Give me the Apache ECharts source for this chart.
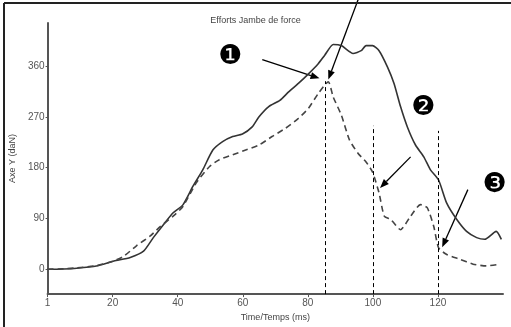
<!DOCTYPE html>
<html>
<head>
<meta charset="utf-8">
<script src="https://cdn.jsdelivr.net/npm/echarts@6/dist/echarts.min.js"></script>
<style>
  html, body { margin: 0; padding: 0; background: #fff; }
  #chart { width: 511px; height: 327px; }
</style>
</head>
<body>
<div id="chart"></div>
<script>
// measured force curves, [time ms, force daN]
const solidCurve = [
  [0, 0], [5, 0.5], [9, 1.8], [15, 5.8], [20.4, 14.6], [25.4, 21], [29.5, 32], [32.5, 56],
  [35.6, 79], [38.6, 100], [41.6, 114], [44.7, 147], [47.7, 176], [50.8, 211], [53.8, 226],
  [56.9, 235], [59.9, 239.5], [62.9, 252], [65, 270], [68, 288], [71.4, 299], [74.1, 314],
  [77.1, 329], [80.2, 346], [83.2, 364], [85.2, 379], [87.8, 398], [90.3, 396], [93.9, 382],
  [96.4, 387], [97.9, 396], [99.9, 396], [101.9, 387], [104.5, 358], [106.5, 329], [108.5, 288],
  [110.6, 252], [113.1, 220], [115.6, 199.5], [117.7, 176], [120.2, 158], [122.7, 117],
  [125.8, 88], [128.8, 67], [131.9, 56], [134.4, 53], [137.9, 67], [139.5, 53]
];
const dashedCurve = [
  [0, 0], [5, 0.8], [9, 2.5], [15, 6.5], [20, 14], [23.4, 23], [27.4, 42], [31.6, 59],
  [34.7, 76], [38.6, 94], [41.6, 111], [45.7, 153], [49.8, 182], [52.8, 194], [56.9, 202.5],
  [60.9, 211], [65, 220], [69, 235], [73.1, 249.5], [77.1, 267], [80.2, 285], [83.2, 311],
  [86.3, 332], [87.8, 305], [90.3, 273], [92.8, 229], [95.4, 205.5], [97.9, 190], [99.9, 172],
  [101.9, 135], [103.5, 94], [105.5, 88], [108.5, 70], [111.6, 94], [114.6, 114.5], [116.7, 109],
  [118.7, 76], [120.2, 38], [122.7, 26], [126.8, 17.6], [130.8, 9], [134.9, 6], [139, 9]
];
const xTicks = [0, 20, 40, 60, 80, 100, 120];
const yTicks = [0, 90, 180, 270, 360];
// vertical markers: [time, top value]
const markers = [[85.4, 333], [100, 254], [120.2, 245]];
// annotation arrows: [[fromX, fromY], [toX, toY]]
const arrows = [
  [[66, 371], [83.6, 338]],
  [[95.5, 478], [86.3, 336]],
  [[111.6, 199], [102.2, 144]],
  [[129.2, 141], [121.3, 39]]
];
const badges = [['\u2776', 56.2, 375], ['\u2777', 115.5, 285], ['\u2778', 137.4, 150]];

const yMin = -44, yMax = 436;
const labelFont = 'Liberation Sans, Arial, sans-serif';

const chart = echarts.init(document.getElementById('chart'));
chart.setOption({
  animation: false,
  title: {
    text: 'Efforts Jambe de force',
    left: 'center', top: 11,
    textStyle: { fontSize: 9, fontWeight: 'normal', color: '#444', fontFamily: labelFont }
  },
  grid: { left: 42, right: 8, top: 23, bottom: 32 },
  xAxis: {
    type: 'value', min: 0, max: 140,
    name: 'Time/Temps (ms)', nameLocation: 'middle', nameGap: 14,
    nameTextStyle: { fontSize: 9, color: '#444', fontFamily: labelFont },
    axisLine: { onZero: false, lineStyle: { color: '#555', width: 2 } },
    axisTick: { customValues: xTicks, length: 3, lineStyle: { color: '#555' } },
    axisLabel: {
      customValues: xTicks, margin: 4, fontSize: 10, color: '#555', fontFamily: labelFont,
      formatter: v => (v === 0 ? '1' : String(v))
    },
    splitLine: { show: false }
  },
  yAxis: {
    type: 'value', min: yMin, max: yMax,
    name: 'Axe Y (daN)', nameLocation: 'middle', nameGap: 20,
    nameTextStyle: { fontSize: 9, color: '#444', fontFamily: labelFont },
    axisLine: { show: true, lineStyle: { color: '#555', width: 2 } },
    axisTick: { show: true, customValues: yTicks, length: 2, lineStyle: { color: '#555' } },
    axisLabel: { customValues: yTicks, margin: 3, fontSize: 10, color: '#555', fontFamily: labelFont },
    splitLine: { show: false }
  },
  series: [
    {
      type: 'line', data: solidCurve, symbol: 'none', smooth: 0.2,
      lineStyle: { color: '#333', width: 1.6 }
    },
    {
      type: 'line', data: dashedCurve, symbol: 'none', smooth: 0.2,
      lineStyle: { color: '#444', width: 1.6, type: [6, 4] },
      markLine: {
        silent: true, symbol: 'none', label: { show: false },
        lineStyle: { color: '#000', width: 1, type: [4, 3] },
        data: markers.map(m => [{ coord: [m[0], yMin] }, { coord: [m[0], m[1]] }])
      }
    }
  ]
});

// arrows and numbered badges, placed through the chart's own scales
const graphics = [];
arrows.forEach(a => {
  const p0 = chart.convertToPixel({ gridIndex: 0 }, a[0]);
  const p1 = chart.convertToPixel({ gridIndex: 0 }, a[1]);
  const ang = Math.atan2(p1[1] - p0[1], p1[0] - p0[0]);
  const hl = 9, hw = 3.5;
  const bx = p1[0] - hl * Math.cos(ang), by = p1[1] - hl * Math.sin(ang);
  graphics.push({
    type: 'line', silent: true,
    shape: { x1: p0[0], y1: p0[1], x2: bx, y2: by },
    style: { stroke: '#000', lineWidth: 1.3 }
  });
  graphics.push({
    type: 'polygon', silent: true,
    shape: { points: [
      [p1[0], p1[1]],
      [bx + hw * Math.sin(ang), by - hw * Math.cos(ang)],
      [bx - hw * Math.sin(ang), by + hw * Math.cos(ang)]
    ] },
    style: { fill: '#000' }
  });
});
badges.forEach(b => {
  const p = chart.convertToPixel({ gridIndex: 0 }, [b[1], b[2]]);
  graphics.push({
    type: 'text', silent: true, x: p[0], y: p[1],
    style: { text: b[0], fill: '#000', font: '27px DejaVu Sans', align: 'center', verticalAlign: 'middle' }
  });
});
// frame edges of the original screenshot
graphics.push({ type: 'line', silent: true, shape: { x1: 4, y1: 3, x2: 511, y2: 3 }, style: { stroke: '#222', lineWidth: 2 } });
graphics.push({ type: 'line', silent: true, shape: { x1: 4, y1: 3, x2: 4, y2: 327 }, style: { stroke: '#222', lineWidth: 2 } });
chart.setOption({ graphic: graphics });
</script>
</body>
</html>
